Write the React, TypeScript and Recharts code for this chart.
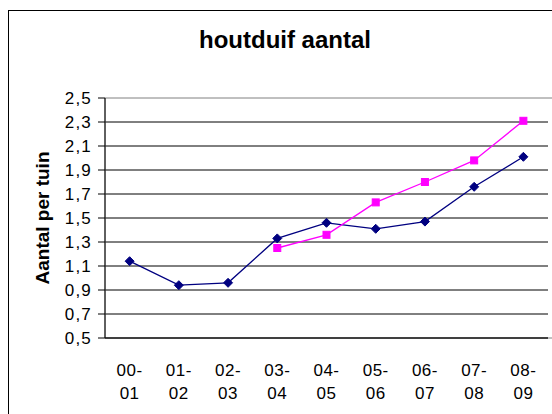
import React from 'react';
import { LineChart, Line, XAxis, YAxis, CartesianGrid, ReferenceArea } from 'recharts';

const categories = ['00-01', '01-02', '02-03', '03-04', '04-05', '05-06', '06-07', '07-08', '08-09'];
const seriesNavy = [1.14, 0.94, 0.96, 1.33, 1.46, 1.41, 1.47, 1.76, 2.01];
const seriesMagenta = [null, null, null, 1.25, 1.36, 1.63, 1.8, 1.98, 2.31];
const yTicks = [0.5, 0.7, 0.9, 1.1, 1.3, 1.5, 1.7, 1.9, 2.1, 2.3, 2.5];
const labelTicks = [0.5, 1.5, 2.5, 3.5, 4.5, 5.5, 6.5, 7.5, 8.5];
const boundaryTicks = [0, 1, 2, 3, 4, 5, 6, 7, 8, 9];
const title = 'houtduif aantal';
const yTitle = 'Aantal per tuin';

const data = categories.map((c, i) => ({ x: i + 0.5, navy: seriesNavy[i], magenta: seriesMagenta[i] }));

const FONT = 'Arial, "Liberation Sans", sans-serif';

const Diamond = (props: any) => {
  const { cx, cy } = props;
  if (cx == null || cy == null) return null;
  return <polygon points={`${cx},${cy - 4.5} ${cx + 4.5},${cy} ${cx},${cy + 4.5} ${cx - 4.5},${cy}`} fill="#000080" stroke="#000080" />;
};

const Square = (props: any) => {
  const { cx, cy, value } = props;
  if (cx == null || cy == null || value == null) return null;
  return <rect x={cx - 3.5} y={cy - 3.5} width={7} height={7} fill="#FF00FF" stroke="#FF00FF" />;
};

const XTick = (props: any) => {
  const { x, y, payload } = props;
  const idx = Math.round(payload.value - 0.5);
  const label = categories[idx] || '';
  const parts = label.split('-');
  return (
    <text textAnchor="middle" fontFamily={FONT} fontSize={17} fill="#000" letterSpacing={0.5}>
      <tspan x={x} y={y + 29}>{parts[0] + '-'}</tspan>
      <tspan x={x} y={y + 52}>{parts[1]}</tspan>
    </text>
  );
};

export default function App() {
  return (
    <div style={{ position: 'absolute', left: 0, top: 0, width: 552, height: 414, overflow: 'hidden', background: '#fff' }}>
      <div style={{ position: 'absolute', left: 8, top: 10, width: 600, height: 500, borderLeft: '1.5px solid #000', borderTop: '1.5px solid #000' }} />
      <div style={{ position: 'absolute', left: 135, top: 28, width: 300, textAlign: 'center', fontFamily: FONT, fontWeight: 'bold', fontSize: 24, lineHeight: '24px', color: '#000' }}>{title}</div>
      <div style={{ position: 'absolute', left: -57, top: 206, width: 200, height: 24, textAlign: 'center', fontFamily: FONT, fontWeight: 'bold', fontSize: 19, lineHeight: '24px', color: '#000', transform: 'rotate(-90deg)' }}>{yTitle}</div>
      <div style={{ position: 'absolute', left: 0, top: 0 }}>
        <LineChart width={552} height={414} data={data} margin={{ top: 98, right: 4, bottom: 0, left: 0 }}>
          <CartesianGrid vertical={false} horizontal stroke="#000" strokeWidth={1} horizontalValues={yTicks.slice(0, -1)} />
          <ReferenceArea xAxisId="grid" x1={0} x2={9} y1={0.5} y2={2.5} fill="none" stroke="#808080" strokeWidth={1} ifOverflow="visible" />
          <XAxis xAxisId="grid" type="number" domain={[0, 9]} ticks={boundaryTicks} tick={false} tickSize={7} height={1} stroke="#000" axisLine={{ stroke: '#000' }} tickLine={{ stroke: '#000' }} allowDataOverflow />
          <XAxis xAxisId="lab" type="number" dataKey="x" domain={[0, 9]} ticks={labelTicks} tick={<XTick />} tickLine={false} axisLine={false} height={75} allowDataOverflow />
          <YAxis type="number" domain={[0.5, 2.5]} ticks={yTicks} width={105} tickSize={7} tickMargin={6} axisLine={{ stroke: '#000' }} tickLine={{ stroke: '#000' }} tick={{ fill: '#000', fontFamily: FONT, fontSize: 17, letterSpacing: 1.2 }} tickFormatter={(v: number) => v.toFixed(1).replace('.', ',')} interval={0} allowDataOverflow />
          <Line xAxisId="lab" type="linear" dataKey="navy" stroke="#000080" strokeWidth={1.3} dot={<Diamond />} isAnimationActive={false} />
          <Line xAxisId="lab" type="linear" dataKey="magenta" stroke="#FF00FF" strokeWidth={1.3} dot={<Square />} isAnimationActive={false} connectNulls={false} />
        </LineChart>
      </div>
    </div>
  );
}
